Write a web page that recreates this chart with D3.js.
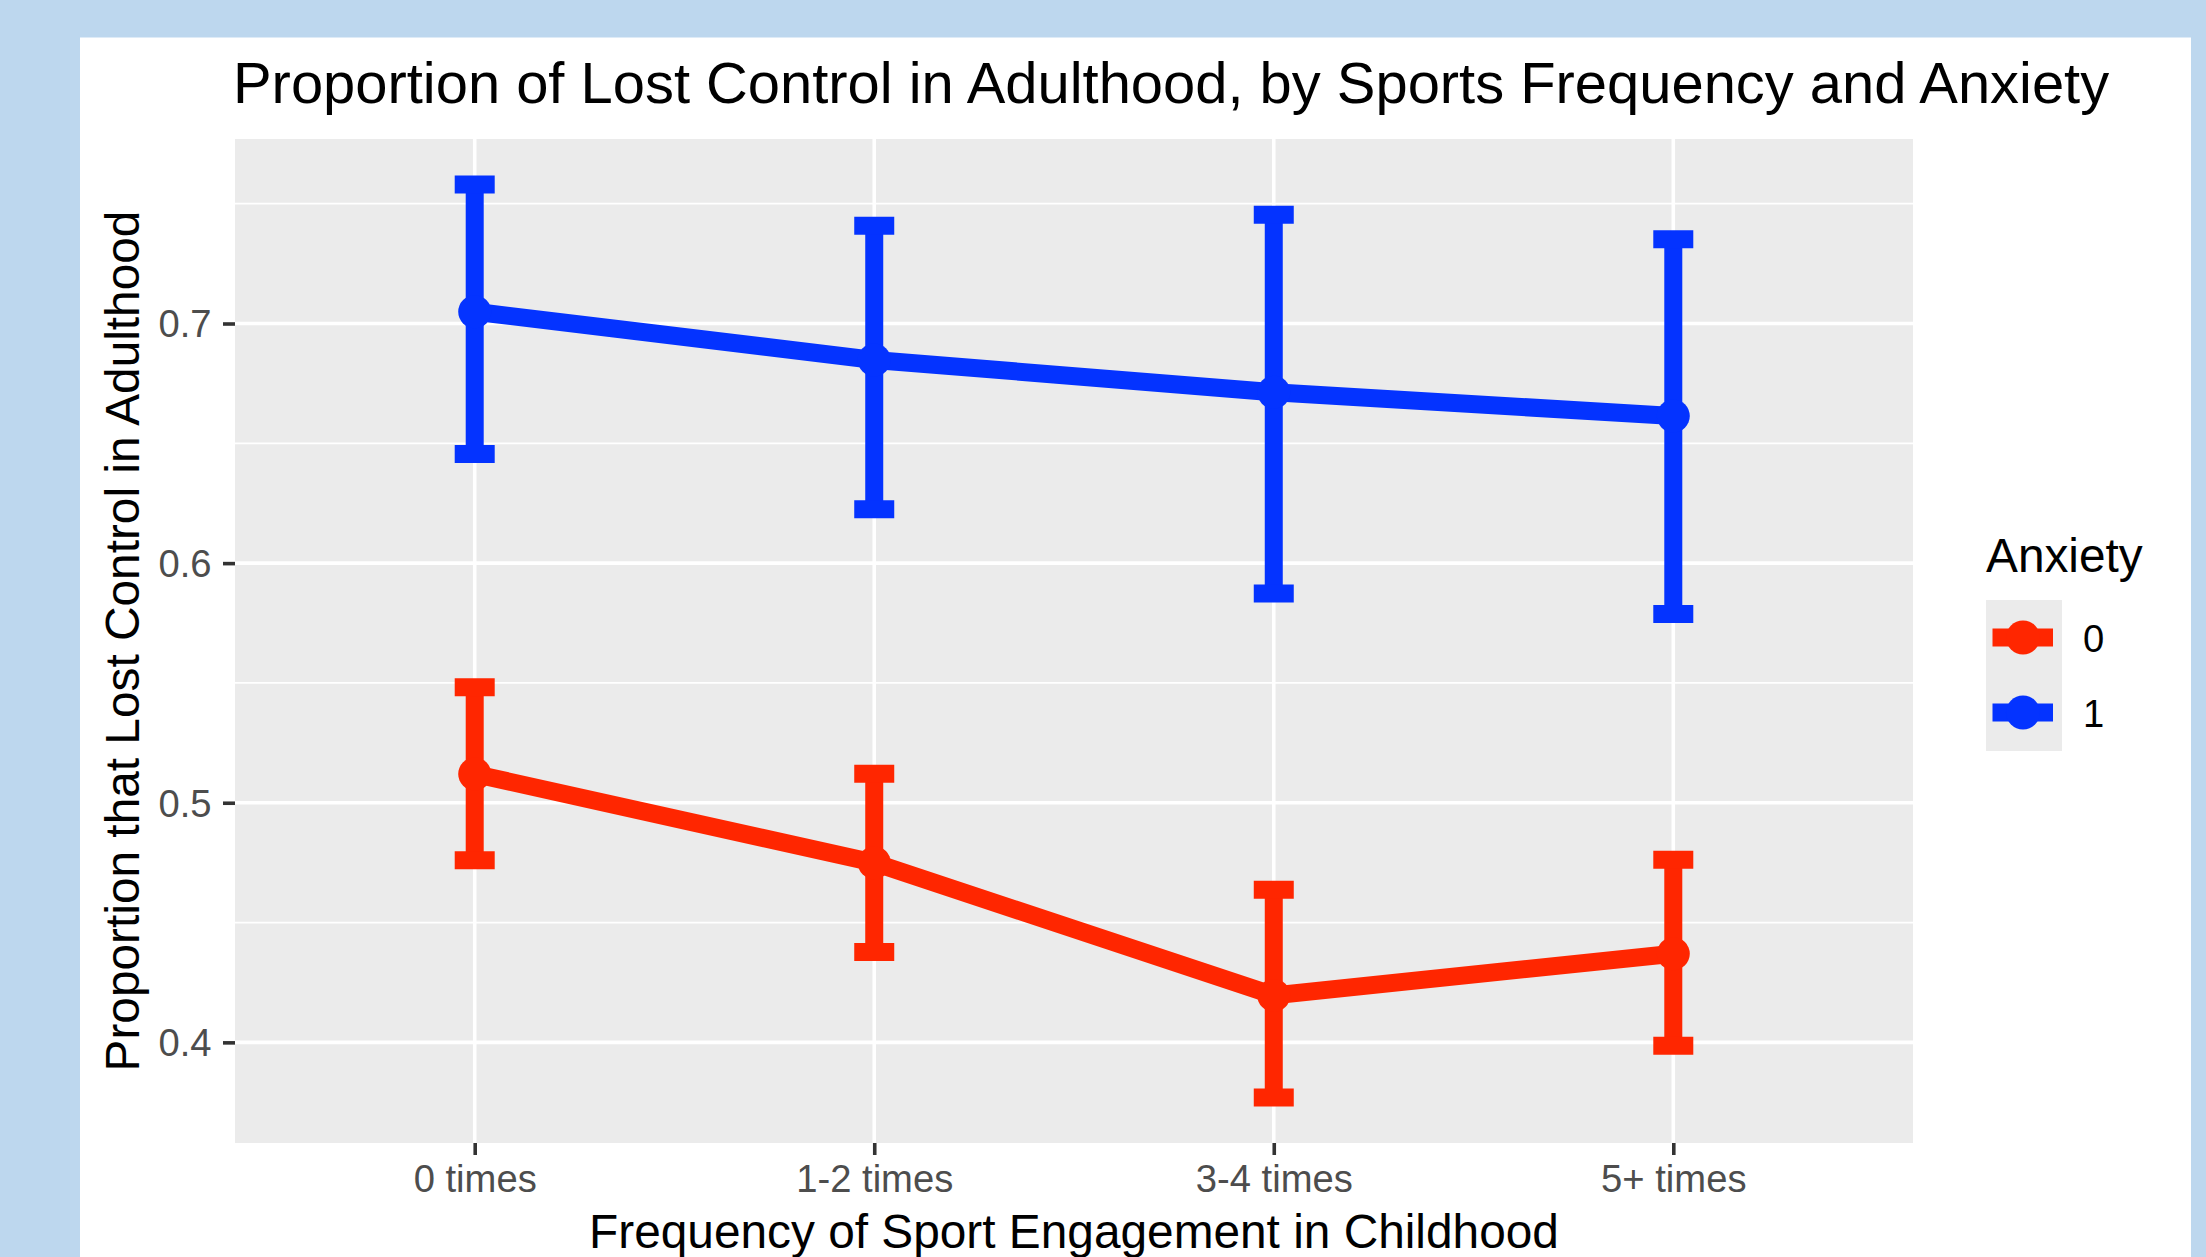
<!DOCTYPE html>
<html>
<head>
<meta charset="utf-8">
<script src="https://cdn.jsdelivr.net/npm/d3@7"></script>
<style>
  body { margin: 0; background: #bdd7ee; }
  svg { display: block; font-family: "Liberation Sans", Arial, sans-serif; }
</style>
</head>
<body>
<script>
// data
var categories = ["0 times", "1-2 times", "3-4 times", "5+ times"];
var anxietyLevels = ["0", "1"];
var anx0Mean = [0.512, 0.475, 0.4196, 0.437];
var anx0Lower = [0.476, 0.4377, 0.377, 0.3986];
var anx0Upper = [0.5482, 0.5121, 0.4637, 0.4762];
var anx1Mean = [0.7049, 0.6848, 0.6713, 0.6614];
var anx1Lower = [0.6455, 0.6225, 0.5873, 0.5788];
var anx1Upper = [0.758, 0.7408, 0.7454, 0.7352];
var yTicks = [0.4, 0.5, 0.6, 0.7];
var yMinorTicks = [0.45, 0.55, 0.65, 0.75];

var width = 2206, height = 1257;
var panel = { left: 235, right: 1913, top: 139, bottom: 1143 };
var colors = { "0": "#ff2600", "1": "#0433ff" };

var svg = d3.select("body").append("svg")
    .attr("width", width)
    .attr("height", height);

// outer frame
svg.append("rect")
    .attr("x", 0).attr("y", 0)
    .attr("width", width).attr("height", height)
    .attr("fill", "#bdd7ee");
svg.append("rect")
    .attr("x", 80).attr("y", 37.5)
    .attr("width", 2191 - 80).attr("height", height - 37.5)
    .attr("fill", "#ffffff");

// scales
var scaleX = d3.scalePoint()
    .domain(categories)
    .range([panel.left, panel.right])
    .padding(0.6);
var scaleY = d3.scaleLinear()
    .domain([0.358, 0.777])
    .range([panel.bottom, panel.top]);

// panel + grid
svg.append("rect")
    .attr("x", panel.left).attr("y", panel.top)
    .attr("width", panel.right - panel.left)
    .attr("height", panel.bottom - panel.top)
    .attr("fill", "#ebebeb");

svg.selectAll(".minor")
    .data(yMinorTicks)
    .enter().append("line")
    .attr("class", "minor")
    .attr("x1", panel.left).attr("x2", panel.right)
    .attr("y1", function(d) { return scaleY(d); })
    .attr("y2", function(d) { return scaleY(d); })
    .attr("stroke", "#ffffff")
    .attr("stroke-width", 1.8);

svg.selectAll(".majorY")
    .data(yTicks)
    .enter().append("line")
    .attr("class", "majorY")
    .attr("x1", panel.left).attr("x2", panel.right)
    .attr("y1", function(d) { return scaleY(d); })
    .attr("y2", function(d) { return scaleY(d); })
    .attr("stroke", "#ffffff")
    .attr("stroke-width", 3.6);

svg.selectAll(".majorX")
    .data(categories)
    .enter().append("line")
    .attr("class", "majorX")
    .attr("y1", panel.top).attr("y2", panel.bottom)
    .attr("x1", function(d) { return scaleX(d); })
    .attr("x2", function(d) { return scaleX(d); })
    .attr("stroke", "#ffffff")
    .attr("stroke-width", 3.6);

// axes
var xAxis = svg.append("g")
    .attr("transform", "translate(0," + panel.bottom + ")")
    .call(d3.axisBottom(scaleX).tickSize(12).tickPadding(8));
var yAxis = svg.append("g")
    .attr("transform", "translate(" + panel.left + ",0)")
    .call(d3.axisLeft(scaleY).tickValues(yTicks).tickSize(12).tickPadding(10)
        .tickFormat(d3.format(".1f")));

[xAxis, yAxis].forEach(function(ax) {
    ax.select(".domain").remove();
    ax.selectAll(".tick line").attr("stroke", "#333333").attr("stroke-width", 3.6);
    ax.selectAll(".tick text")
        .attr("fill", "#4d4d4d")
        .style("font-size", "38.2px")
        .style("font-family", "'Liberation Sans', Arial, sans-serif");
});
xAxis.selectAll(".tick text").attr("dy", null).attr("y", 49);
yAxis.selectAll(".tick text").attr("dy", "0.35em").attr("x", -23.5);

// series
var series = [
    { key: "0", mean: anx0Mean, lower: anx0Lower, upper: anx0Upper },
    { key: "1", mean: anx1Mean, lower: anx1Lower, upper: anx1Upper }
];

var lineWidth = 18;
var capHalf = 20;
var line = d3.line()
    .x(function(d) { return scaleX(d.cat); })
    .y(function(d) { return scaleY(d.value); });

series.forEach(function(s) {
    var rows = categories.map(function(c, i) {
        return { cat: c, value: s.mean[i], lo: s.lower[i], hi: s.upper[i] };
    });
    var g = svg.append("g").attr("class", "series-" + s.key);
    var col = colors[s.key];

    // error bars
    g.selectAll(".ebar")
        .data(rows)
        .enter().append("line")
        .attr("x1", function(d) { return scaleX(d.cat); })
        .attr("x2", function(d) { return scaleX(d.cat); })
        .attr("y1", function(d) { return scaleY(d.lo); })
        .attr("y2", function(d) { return scaleY(d.hi); })
        .attr("stroke", col)
        .attr("stroke-width", lineWidth);
    ["lo", "hi"].forEach(function(k) {
        g.selectAll(".cap-" + k)
            .data(rows)
            .enter().append("line")
            .attr("x1", function(d) { return scaleX(d.cat) - capHalf; })
            .attr("x2", function(d) { return scaleX(d.cat) + capHalf; })
            .attr("y1", function(d) { return scaleY(d[k]); })
            .attr("y2", function(d) { return scaleY(d[k]); })
            .attr("stroke", col)
            .attr("stroke-width", lineWidth);
    });

    g.append("path")
        .datum(rows)
        .attr("d", line)
        .attr("fill", "none")
        .attr("stroke", col)
        .attr("stroke-width", lineWidth);

    g.selectAll(".pt")
        .data(rows)
        .enter().append("circle")
        .attr("cx", function(d) { return scaleX(d.cat); })
        .attr("cy", function(d) { return scaleY(d.value); })
        .attr("r", 16.5)
        .attr("fill", col);
});

// titles
svg.append("text")
    .attr("x", 233).attr("y", 102.7)
    .style("font-size", "57.9px")
    .attr("fill", "#000000")
    .text("Proportion of Lost Control in Adulthood, by Sports Frequency and Anxiety");

svg.append("text")
    .attr("x", (panel.left + panel.right) / 2).attr("y", 1248)
    .attr("text-anchor", "middle")
    .style("font-size", "47.8px")
    .attr("fill", "#000000")
    .text("Frequency of Sport Engagement in Childhood");

svg.append("text")
    .attr("transform", "translate(139," + (panel.top + panel.bottom) / 2 + ") rotate(-90)")
    .attr("text-anchor", "middle")
    .style("font-size", "47.8px")
    .attr("fill", "#000000")
    .text("Proportion that Lost Control in Adulthood");

// legend
var legend = svg.append("g").attr("transform", "translate(1986,0)");
legend.append("text")
    .attr("x", 0).attr("y", 572)
    .style("font-size", "47.8px")
    .attr("fill", "#000000")
    .text("Anxiety");

var keyY = d3.scalePoint().domain(anxietyLevels).range([637.5, 712.5]);
legend.append("rect")
    .attr("x", 0).attr("y", 600)
    .attr("width", 76).attr("height", 151)
    .attr("fill", "#ebebeb");
var keys = legend.selectAll(".key")
    .data(anxietyLevels)
    .enter().append("g")
    .attr("transform", function(d) { return "translate(0," + keyY(d) + ")"; });
keys.append("line")
    .attr("x1", 6.5).attr("x2", 67)
    .attr("y1", 0).attr("y2", 0)
    .attr("stroke", function(d) { return colors[d]; })
    .attr("stroke-width", lineWidth);
keys.append("circle")
    .attr("cx", 37).attr("cy", 0).attr("r", 17)
    .attr("fill", function(d) { return colors[d]; });
keys.append("text")
    .attr("x", 97).attr("y", 0).attr("dy", "0.37em")
    .style("font-size", "38.2px")
    .attr("fill", "#000000")
    .text(function(d) { return d; });
</script>
</body>
</html>
